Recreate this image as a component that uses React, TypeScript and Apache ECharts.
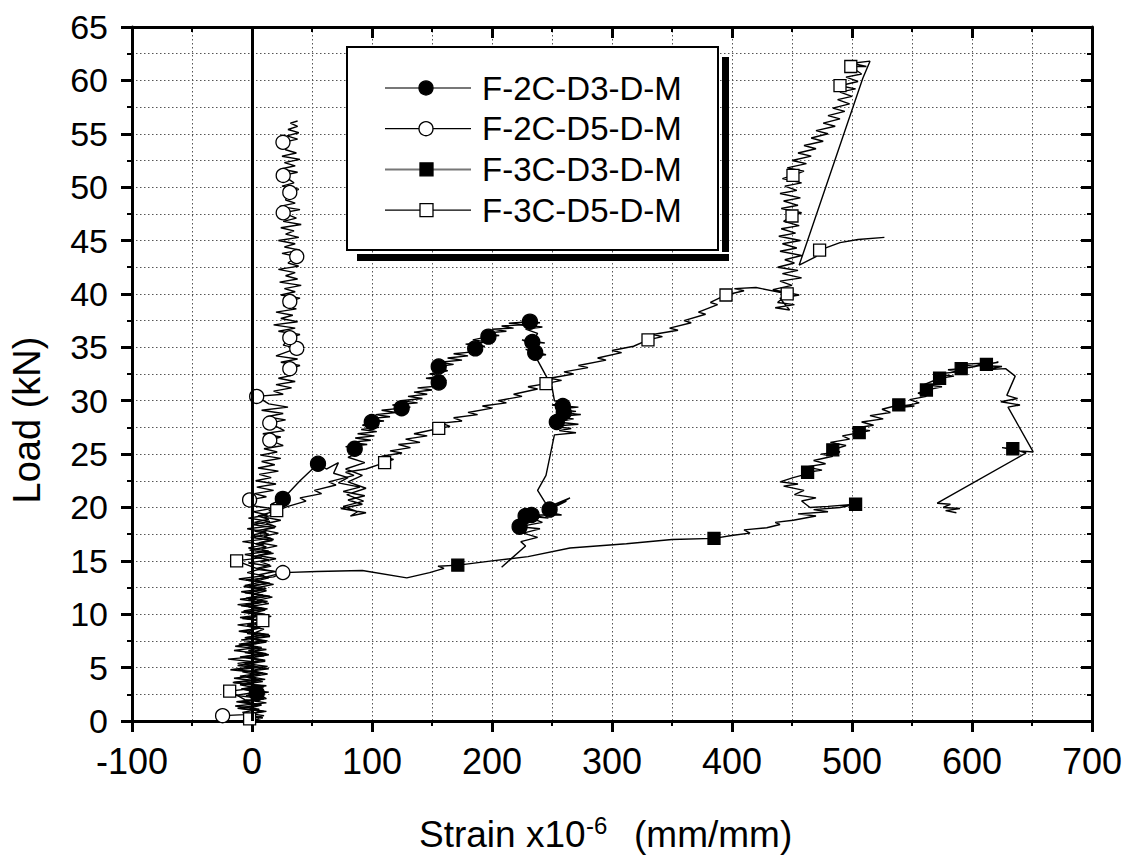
import React, { useEffect, useRef } from "react";
import * as echarts from "echarts";

// ---- data (strain x10^-6, load kN) ----
const seriesNames = ["F-2C-D3-D-M", "F-2C-D5-D-M", "F-3C-D3-D-M", "F-3C-D5-D-M"];

const f2cD3Line = [
  [0, 0], [6, 0.3], [-4, 0.6], [10, 0.9], [-2, 1.2], [8, 1.5], [-6, 1.8], [12, 2.1], [4, 2.6], [-3, 2.9],
  [10, 3.2], [-8, 3.5], [7, 3.8], [-4, 4.1], [13, 4.4], [0, 4.7], [9, 5], [-7, 5.3], [11, 5.6], [-2, 5.9],
  [14, 6.2], [1, 6.5], [8, 6.8], [-5, 7.1], [12, 7.4], [-1, 7.7], [15, 8], [3, 8.3], [10, 8.6], [-4, 8.9],
  [13, 9.2], [2, 9.5], [16, 9.8], [0, 10.1], [11, 10.4], [-3, 10.7], [14, 11], [4, 11.3], [17, 11.6], [1, 11.9],
  [12, 12.2], [5, 12.5], [18, 12.8], [3, 13.1], [14, 13.4], [6, 13.7], [19, 14], [4, 14.3], [15, 14.6], [7, 14.9],
  [20, 15.2], [5, 15.5], [16, 15.8], [8, 16.1], [21, 16.4], [6, 16.7], [18, 17], [10, 17.3], [22, 17.6], [9, 17.9],
  [20, 18.2], [12, 18.5], [24, 18.8], [10, 19.1], [22, 19.4], [14, 19.7], [26, 20], [16, 20.3], [25.7, 20.8], [40, 22.5],
  [55, 24.1], [62, 23.6], [72, 24.2], [68, 23.2], [80, 22.8], [72, 22.3], [90, 21.9], [76, 21.5], [94, 21.1], [80, 20.7],
  [92, 20.3], [74, 19.9], [95, 19.5], [82, 19.2], [88, 19.6], [76, 20.1], [93, 20.6], [79, 21.2], [95, 21.8], [80, 22.4],
  [92, 23], [78, 23.6], [94, 24.2], [80, 24.7], [88, 25.1], [85.6, 25.5], [78, 25.7], [96, 25.9], [82, 26.1], [99, 26.3],
  [86, 26.5], [102, 26.7], [88, 26.9], [104, 27.1], [91, 27.3], [106, 27.5], [92, 27.7], [99.8, 28], [110, 28.1], [95, 28.3],
  [115, 28.5], [103, 28.7], [120, 28.9], [108, 29.1], [124.7, 29.3], [132, 29.4], [117, 29.6], [138, 29.8], [124, 30], [142, 30.2],
  [130, 30.4], [146, 30.6], [135, 30.8], [150, 31], [138, 31.2], [158, 31.4], [155.6, 31.7], [162, 31.9], [145, 32.1], [160, 32.3],
  [148, 32.5], [163, 32.8], [155.6, 33.2], [168, 33.4], [156, 33.6], [175, 33.8], [163, 34], [180, 34.2], [168, 34.4], [186, 34.6],
  [186, 34.9], [194, 35.1], [178, 35.3], [196, 35.5], [184, 35.7], [197, 36], [206, 36.1], [192, 36.3], [212, 36.5], [200, 36.7],
  [218, 36.8], [208, 37], [226, 37.1], [214, 37.25], [231.6, 37.4], [240, 37.3], [222, 37.1], [242, 36.9], [228, 36.7], [238, 36.3],
  [233.6, 35.5], [244, 35.4], [225, 35.7], [238, 35.1], [236, 34.5], [228, 34.8], [245, 34.3], [236, 34.2], [250, 31.3], [252, 30],
  [262, 29.8], [250, 29.6], [259, 29.5], [272, 29.4], [254, 29.2], [270, 29], [259.8, 28.9], [274, 28.7], [252, 28.5], [268, 28.3],
  [254, 28], [272, 27.8], [250, 27.6], [266, 27.4], [256, 27.2], [270, 27], [252, 26.8], [245, 23], [238, 21.6], [248, 19.8],
  [262, 20.6], [250, 20.2], [265, 20.9], [245, 19.6], [258, 19.3], [233, 19.3], [247, 19], [228, 19.2], [242, 18.6], [223, 18.2],
  [240, 18], [226, 17.6], [238, 17.2], [224, 16.8], [228, 16.4], [208, 14.4]
];
const f2cD3Marks = [
  [4, 2.6], [25.7, 20.8], [55, 24.1], [85.6, 25.5], [99.8, 28], [124.7, 29.3], [155.6, 31.7], [155.6, 33.2], [186, 34.9], [197, 36],
  [231.6, 37.4], [233.6, 35.5], [236, 34.5], [259, 29.5], [259.8, 28.9], [254, 28], [248, 19.8], [233, 19.3], [223, 18.2], [228, 19.2]
];

const f2cD5Line = [
  [-24, 0.5], [-6, 0.6], [8, 0.9], [-12, 1.2], [6, 1.5], [-9, 1.8], [10, 2.1], [-14, 2.4], [4, 2.7], [-8, 3],
  [12, 3.3], [-16, 3.6], [6, 3.9], [-10, 4.2], [9, 4.5], [-18, 4.8], [3, 5.1], [-12, 5.4], [11, 5.7], [-7, 6],
  [8, 6.3], [-15, 6.6], [5, 6.9], [-9, 7.2], [13, 7.5], [-6, 7.8], [10, 8.1], [-11, 8.4], [7, 8.7], [-4, 9],
  [14, 9.3], [-8, 9.6], [9, 9.9], [-5, 10.2], [12, 10.5], [-9, 10.8], [6, 11.1], [-3, 11.4], [15, 11.7], [-6, 12],
  [10, 12.3], [-2, 12.6], [13, 12.9], [-5, 13.2], [18, 13.5], [26, 13.9], [4, 14.2], [16, 14.5], [-3, 14.8], [14, 15.1],
  [0, 15.4], [18, 15.7], [-2, 16], [12, 16.3], [3, 16.6], [17, 16.9], [-1, 17.2], [14, 17.5], [2, 17.8], [19, 18.1],
  [0, 18.4], [15, 18.7], [-3, 19], [13, 19.3], [1, 19.6], [16, 19.9], [-2, 20.2], [-2, 20.7], [12, 21], [2, 21.3],
  [18, 21.6], [4, 21.9], [20, 22.2], [3, 22.5], [16, 22.8], [6, 23.1], [22, 23.4], [5, 23.7], [19, 24], [8, 24.3],
  [24, 24.6], [7, 24.9], [21, 25.2], [10, 25.5], [26, 25.8], [14.8, 26.3], [24, 26.6], [9, 26.9], [27, 27.2], [14.8, 27.9],
  [28, 28.2], [12, 28.5], [26, 28.8], [8, 29.1], [30, 29.4], [14, 29.7], [4, 30.4], [26, 30.6], [18, 30.9], [33, 31.2],
  [20, 31.5], [36, 31.8], [22, 32.1], [34, 32.4], [31.5, 33], [40, 33.3], [24, 33.6], [38, 33.9], [20, 34.2], [37.3, 34.9],
  [26, 35.2], [31.5, 35.9], [40, 36.2], [22, 36.5], [36, 36.8], [18, 37.1], [38, 37.4], [24, 37.7], [34, 38], [20, 38.3],
  [37, 38.6], [26, 38.9], [31.5, 39.3], [40, 39.6], [24, 39.9], [36, 40.2], [27, 40.5], [41, 40.8], [23, 41.1], [38, 41.4],
  [28, 41.7], [36, 42], [22, 42.3], [39, 42.6], [30, 42.9], [37.3, 43.5], [25, 43.8], [40, 44.1], [27, 44.4], [36, 44.7],
  [22, 45], [39, 45.3], [28, 45.6], [35, 45.9], [24, 46.2], [41, 46.5], [26, 46.8], [37, 47.1], [26, 47.6], [40, 47.9],
  [23, 48.2], [36, 48.5], [28, 48.8], [31.5, 49.5], [39, 49.8], [25, 50.1], [35, 50.4], [26, 51.1], [38, 51.4], [24, 51.7],
  [36, 52], [27, 52.3], [40, 52.6], [25, 52.9], [37, 53.2], [28, 53.5], [26, 54.2], [38, 54.5], [29, 54.8], [39, 55.1],
  [30, 55.4], [38, 55.7], [32, 56], [38, 56.2]
];
const f2cD5Marks = [
  [-24.5, 0.5], [25.7, 13.9], [-2, 20.7], [14.8, 26.3], [14.8, 27.9], [3.9, 30.4], [31.5, 33], [37.3, 34.9], [31.5, 35.9], [31.5, 39.3],
  [37.3, 43.5], [26, 47.6], [31.5, 49.5], [26, 51.1], [25.8, 54.2]
];

const f3cD3Line = [
  [0, 0], [9, 0.3], [-7, 0.6], [12, 0.9], [-10, 1.2], [6, 1.5], [-13, 1.8], [10, 2.1], [-5, 2.4], [14, 2.7],
  [-9, 3], [8, 3.3], [-15, 3.6], [11, 3.9], [-4, 4.2], [7, 4.5], [-12, 4.8], [13, 5.1], [-6, 5.4], [9, 5.7],
  [-10, 6], [12, 6.3], [-3, 6.6], [8, 6.9], [-11, 7.2], [10, 7.5], [-5, 7.8], [14, 8.1], [-8, 8.4], [6, 8.7],
  [-12, 9], [11, 9.3], [-4, 9.6], [9, 9.9], [-9, 10.2], [13, 10.5], [-6, 10.8], [8, 11.1], [-10, 11.4], [12, 11.7],
  [-3, 12], [10, 12.3], [-7, 12.6], [15, 12.9], [2, 13.2], [12, 13.5], [26, 13.9], [54, 14], [92, 14.1], [129, 13.4],
  [148, 13.9], [160, 14.3], [155, 14.5], [172, 14.6], [200, 15], [230, 15.4], [265, 16.2], [312, 16.6], [350, 17], [385, 17.1],
  [401, 17.4], [415, 17.6], [410, 17.9], [429, 18.1], [440, 18.4], [436, 18.6], [451, 18.8], [470, 19.2], [455, 19.4], [480, 19.6],
  [468, 19.8], [490, 20], [503, 20.3], [480, 20.1], [465, 20], [458, 20.6], [470, 20.9], [452, 21.2], [460, 21.6], [443, 22],
  [455, 22.2], [440, 22.4], [451, 22.8], [458, 23], [463, 23.3], [475, 23.5], [462, 23.8], [478, 24.1], [468, 24.4], [484, 24.8],
  [474, 25], [490, 25.2], [484, 25.4], [495, 25.8], [482, 26.1], [498, 26.4], [492, 26.7], [506, 27], [515, 27.2], [500, 27.4],
  [518, 27.7], [508, 28], [526, 28.3], [515, 28.6], [532, 28.9], [525, 29.2], [539, 29.6], [552, 29.5], [535, 29.3], [556, 29.8],
  [548, 30.1], [562, 30.4], [555, 30.7], [562, 31], [575, 31.3], [560, 31.5], [573, 32.1], [585, 32.3], [570, 32.5], [588, 32.7],
  [580, 32.9], [591, 33], [603, 33.2], [588, 33.4], [610, 33.5], [598, 33.1], [612, 33.4], [622, 33.6], [605, 33.3], [625, 33.2],
  [610, 32.9], [628, 33], [636, 32.3], [629, 30.5], [638, 30.2], [624, 29.9], [640, 29.6], [630, 29.4], [651, 25.2], [640, 25.3],
  [625, 25.6], [634, 25.5], [645, 25.1], [571, 20.4], [582, 20.3], [576, 20], [590, 19.9], [578, 19.7], [587, 19.5]
];
const f3cD3Marks = [
  [171.5, 14.6], [385, 17.1], [503, 20.3], [463, 23.3], [484, 25.4], [506, 27], [539, 29.6], [562, 31], [573, 32.1], [591, 33],
  [612, 33.4], [634, 25.5]
];

const f3cD5Line = [
  [-2, 0.2], [10, 0.5], [-8, 0.8], [6, 1.1], [-14, 1.4], [12, 1.7], [-6, 2], [-18.6, 2.8], [4, 3.1], [-10, 3.4],
  [9, 3.7], [-15, 4], [7, 4.3], [-8, 4.6], [14, 4.9], [-12, 5.2], [5, 5.5], [-20, 5.8], [10, 6.1], [-6, 6.4],
  [12, 6.7], [-14, 7], [6, 7.3], [-9, 7.6], [15, 7.9], [-4, 8.2], [9, 9.4], [-10, 9.7], [11, 10], [-7, 10.3],
  [8, 10.6], [-12, 10.9], [13, 11.2], [-5, 11.5], [9, 11.8], [-9, 12.1], [12, 12.4], [-6, 12.7], [7, 13], [-11, 13.3],
  [10, 13.6], [-4, 13.9], [6, 14.2], [-12.8, 15], [8, 15.3], [-6, 15.6], [14, 15.9], [-3, 16.2], [10, 16.5], [-8, 16.8],
  [16, 17.1], [0, 17.4], [12, 17.7], [-4, 18], [18, 18.3], [2, 18.6], [14, 18.9], [5, 19.2], [20.6, 19.7], [30, 20.1],
  [45, 20.6], [40, 20.9], [58, 21.3], [52, 21.6], [70, 22.1], [64, 22.4], [85, 23], [78, 23.3], [95, 23.6], [110.5, 24.2],
  [118, 24.5], [108, 24.8], [125, 25.1], [115, 25.3], [132, 25.6], [122, 25.9], [140, 26.1], [128, 26.4], [146, 26.7], [135, 26.9],
  [155.6, 27.4], [165, 27.6], [158, 27.9], [175, 28.1], [168, 28.4], [188, 28.7], [180, 28.9], [200, 29.3], [192, 29.5], [212, 29.8],
  [205, 30], [225, 30.4], [218, 30.6], [238, 31.1], [230, 31.3], [245, 31.6], [258, 31.9], [248, 32.1], [268, 32.5], [260, 32.7],
  [280, 33.1], [272, 33.3], [295, 33.8], [288, 34], [308, 34.5], [300, 34.7], [318, 35.1], [330, 35.7], [342, 36], [334, 36.2],
  [355, 36.6], [348, 36.8], [366, 37.3], [360, 37.5], [378, 38.1], [372, 38.3], [388, 39], [382, 39.2], [395, 39.9], [410, 40.3],
  [402, 40.5], [420, 40.6], [446, 40], [438, 39.2], [452, 39], [436, 38.7], [448, 38.5], [440, 39.6], [456, 39.9], [434, 40.4],
  [450, 40.8], [440, 41.2], [458, 41.5], [442, 41.9], [455, 42.2], [438, 42.5], [452, 42.9], [444, 43.2], [458, 43.6], [440, 44],
  [454, 44.3], [442, 44.7], [457, 45], [439, 45.4], [453, 45.7], [441, 46.1], [456, 46.4], [443, 46.8], [450, 47.3], [458, 47.6],
  [441, 48], [455, 48.3], [443, 48.7], [457, 49], [440, 49.4], [454, 49.7], [444, 50.1], [458, 50.4], [442, 50.8], [450.8, 51.1],
  [460, 51.5], [446, 51.8], [462, 52.2], [450, 52.5], [466, 52.9], [455, 53.2], [470, 53.6], [460, 53.9], [476, 54.3], [466, 54.6],
  [480, 55], [470, 55.3], [486, 55.7], [476, 56], [490, 56.4], [480, 56.7], [494, 57.1], [484, 57.4], [498, 57.8], [488, 58.2],
  [500, 58.5], [490, 58.9], [503, 59.2], [490, 59.5], [505, 59.9], [495, 60.3], [508, 60.6], [499, 61.3], [512, 61.3], [500, 61.6],
  [515, 61.8], [509, 60.2], [456, 42.7], [470, 43.5], [473, 44.1], [490, 44.8], [505, 45.1], [527, 45.3]
];
const f3cD5Marks = [
  [-2, 0.2], [-18.6, 2.8], [9, 9.4], [-12.8, 15], [20.6, 19.7], [110.5, 24.2], [155.6, 27.4], [245, 31.6], [330, 35.7], [395, 39.9],
  [446, 40], [473, 44.1], [450, 47.3], [450.8, 51.1], [490, 59.5], [499, 61.3]
];

const xTicks = { min: -100, max: 700, step: 100 };
const yTicks = { min: 0, max: 65, step: 5 };

const FONT = "'Liberation Sans', Arial, Helvetica, sans-serif";

export default function App() {
  const ref = useRef<HTMLDivElement>(null);
  useEffect(() => {
    document.body.style.margin = "0";
    const chart = echarts.init(ref.current!, null, { renderer: "svg" });
    const grid = { left: 132, right: 40, top: 27, bottom: 136 };
    const dotted = { color: "#555", width: 1, type: [1.5, 2.5] as any };
    const axisBase = (min: number, max: number, step: number) => ({
      type: "value" as const,
      min, max, interval: step,
      axisLine: { show: true, onZero: false, lineStyle: { color: "#000", width: 3 } },
      minorTick: { show: true, splitNumber: 2, length: 5, lineStyle: { color: "#000", width: 2 } },
    });
    const lineS = (data: number[][]) => ({
      type: "line", data, showSymbol: false, symbol: "none",
      lineStyle: { color: "#000", width: 1.4 }, z: 3, silent: true,
    });
    const markS = (data: number[][], symbol: string, filled: boolean, size: number) => ({
      type: "scatter", data, symbol, symbolSize: size, z: 4, silent: true,
      itemStyle: { color: filled ? "#000" : "#fff", borderColor: "#000", borderWidth: 1.3, opacity: 1 },
    });
    const zeroLine = {
      type: "line", data: [], silent: true,
      markLine: {
        silent: true, symbol: ["none", "none"], label: { show: false },
        lineStyle: { type: "solid", color: "#000", width: 3 },
        data: [{ xAxis: 0 }],
      },
      z: 2,
    };
    chart.setOption({
      animation: false,
      backgroundColor: "#fff",
      grid,
      xAxis: [
        {
          ...axisBase(xTicks.min, xTicks.max, xTicks.step),
          position: "bottom",
          axisTick: { show: true, inside: false, length: 11, lineStyle: { color: "#000", width: 3 } },
          axisLabel: { color: "#000", fontSize: 36, fontFamily: FONT, margin: 22 },
          splitLine: { show: true, lineStyle: dotted },
          minorSplitLine: { show: true, lineStyle: dotted },
        },
        {
          ...axisBase(xTicks.min, xTicks.max, xTicks.step),
          position: "top",
          axisTick: { show: true, inside: true, length: 11, lineStyle: { color: "#000", width: 3 } },
          minorTick: { show: true, splitNumber: 2, length: 5, lineStyle: { color: "#000", width: 2 } },
          axisLabel: { show: false },
          splitLine: { show: false },
        },
      ],
      yAxis: [
        {
          ...axisBase(yTicks.min, yTicks.max, yTicks.step),
          position: "left",
          axisTick: { show: true, inside: false, length: 11, lineStyle: { color: "#000", width: 3 } },
          axisLabel: { color: "#000", fontSize: 34, fontFamily: FONT, margin: 24 },
          splitLine: { show: true, lineStyle: dotted },
          minorSplitLine: { show: true, lineStyle: dotted },
        },
        {
          ...axisBase(yTicks.min, yTicks.max, yTicks.step),
          position: "right",
          axisTick: { show: true, inside: true, length: 11, lineStyle: { color: "#000", width: 3 } },
          minorTick: { show: true, splitNumber: 2, length: 5, lineStyle: { color: "#000", width: 2 } },
          axisLabel: { show: false },
          splitLine: { show: false },
        },
      ],
      series: [
        zeroLine,
        lineS(f2cD3Line), lineS(f2cD5Line), lineS(f3cD3Line), lineS(f3cD5Line),
        markS(f2cD3Marks, "circle", true, 15),
        markS(f2cD5Marks, "circle", false, 14),
        markS(f3cD3Marks, "rect", true, 12),
        markS(f3cD5Marks, "rect", false, 12),
      ],
      graphic: [
        { type: "text", x: 419, y: 853, z: 10, style: { text: "Strain x10", fontSize: 37, fontFamily: FONT, fill: "#000", verticalAlign: "bottom" } },
        { type: "text", x: 586, y: 837, z: 10, style: { text: "-6", fontSize: 24, fontFamily: FONT, fill: "#000", verticalAlign: "bottom" } },
        { type: "text", x: 634, y: 853, z: 10, style: { text: "(mm/mm)", fontSize: 37, fontFamily: FONT, fill: "#000", verticalAlign: "bottom" } },
        {
          type: "text", x: 27, y: 420, rotation: Math.PI / 2, z: 10,
          style: {
            text: "Load (kN)", fontSize: 38, fontFamily: FONT, fill: "#000",
            align: "center", verticalAlign: "middle",
          },
          originX: 0, originY: 0,
        },
        // legend shadow
        { type: "rect", shape: { x: 722, y: 57, width: 7, height: 195 }, style: { fill: "#000" }, z: 10 },
        { type: "rect", shape: { x: 357, y: 254, width: 372, height: 7 }, style: { fill: "#000" }, z: 10 },
        // legend box
        { type: "rect", shape: { x: 347, y: 47, width: 371, height: 203 }, style: { fill: "#fff", stroke: "#000", lineWidth: 2 }, z: 10 },
        ...seriesNames.flatMap((name, i) => {
          const y = 88 + i * 40.7;
          const filled = i % 2 === 0;
          const isCircle = i < 2;
          const items: any[] = [
            { type: "line", shape: { x1: 385, y1: y, x2: 471, y2: y }, style: { stroke: filled ? "#777" : "#000", lineWidth: filled ? 2 : 1.2 }, z: 11 },
            isCircle
              ? { type: "circle", shape: { cx: 426, cy: y, r: 7 }, style: { fill: filled ? "#000" : "#fff", stroke: "#000", lineWidth: 1.3 }, z: 12 }
              : { type: "rect", shape: { x: 420, y: y - 6.5, width: 13, height: 13 }, style: { fill: filled ? "#000" : "#fff", stroke: "#000", lineWidth: 1.3 }, z: 12 },
            { type: "text", x: 482, y, style: { text: name, fontSize: 33, fontFamily: FONT, fill: "#000", verticalAlign: "middle" }, z: 12 },
          ];
          return items;
        }),
      ],
    });
    return () => chart.dispose();
  }, []);
  return <div ref={ref} style={{ width: 1132, height: 857 }} />;
}
